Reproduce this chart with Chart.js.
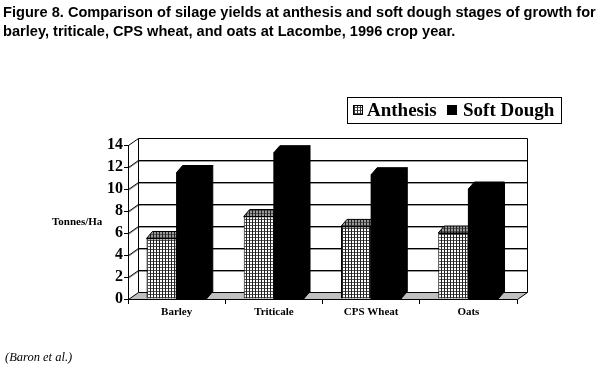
<!DOCTYPE html>
<html>
<head>
<meta charset="utf-8">
<script src="https://cdn.jsdelivr.net/npm/chart.js@4/dist/chart.umd.min.js"></script>
<style>
  body { margin: 0; background: #fff; }
  #wrap { position: relative; width: 598px; height: 370px; overflow: hidden; }
  #myChart { position: absolute; left: 0; top: 0; }
  .title { position: absolute; left: 3px; top: 3px; font: bold 14.6px "Liberation Sans", Arial, sans-serif; line-height: 19px; color: #000; white-space: nowrap; }
  .title b { font-weight: 900; }
  .ylab { position: absolute; left: 52px; top: 215px; font: bold 11px "Liberation Serif", serif; }
  .src { position: absolute; left: 5px; top: 350px; font: italic 12.5px "Liberation Serif", serif; }
  .legend { position: absolute; left: 347px; top: 97px; width: 213px; height: 25px; border: 1px solid #000; font: bold 19px "Liberation Serif", serif; }
  .legend span { position: absolute; top: 1px; }
  .sw { position: absolute; top: 7px; width: 10px; height: 10px; border: 1px solid #000; box-sizing: border-box; }
  .sw.a { left: 5px; background:
    repeating-linear-gradient(90deg, #333 0 1px, transparent 1px 3px),
    repeating-linear-gradient(0deg, #555 0 1px, #fff 1px 3px); }
  .sw.s { left: 99px; background: #000; }
</style>
</head>
<body>
<div id="wrap">
  <canvas id="myChart" width="598" height="370"></canvas>
  <div class="title"><b>Figure 8.</b> Comparison of silage yields at anthesis and soft dough stages of growth for<br>barley, triticale, CPS wheat, and oats at Lacombe, 1996 crop year.</div>
  <div class="legend">
    <div class="sw a"></div><span style="left:19px">Anthesis</span>
    <div class="sw s"></div><span style="left:115px">Soft Dough</span>
  </div>
  <div class="ylab">Tonnes/Ha</div>
  <div class="src">(Baron et al.)</div>
</div>
<script>
const crops = ['Barley', 'Triticale', 'CPS Wheat', 'Oats']
const anthesis = [5.5, 7.5, 6.6, 6.0]
const softDough = [11.5, 13.3, 11.3, 10.0]
const yMax = 14
const yStep = 2

// depth of the walls and of the bars (fake 3d)
const WDX = 10, WDY = -7
const BDX = 6, BDY = -7

function makePattern(bg) {
  const c = document.createElement('canvas')
  c.width = 3
  c.height = 3
  const g = c.getContext('2d')
  g.fillStyle = bg
  g.fillRect(0, 0, 3, 3)
  g.fillStyle = '#222'
  g.fillRect(0, 0, 1, 3)
  g.fillStyle = '#555'
  g.fillRect(1, 0, 2, 1)
  return g.createPattern(c, 'repeat')
}

const ctx = document.getElementById('myChart').getContext('2d')
const frontPat = makePattern('#fff')
const topPat = makePattern('#999')

function poly(c, pts, fill) {
  c.beginPath()
  c.moveTo(pts[0][0], pts[0][1])
  for (let i = 1; i < pts.length; i++) c.lineTo(pts[i][0], pts[i][1])
  c.closePath()
  if (fill) { c.fillStyle = fill; c.fill() }
  c.strokeStyle = '#000'
  c.lineWidth = 1
  c.stroke()
}

function drawBlock(c, bar, fill, front) {
  const l = bar.x - bar.width / 2, r = bar.x + bar.width / 2
  const t = bar.y, b = bar.base
  if (front) poly(c, [[l, t], [r, t], [r, b], [l, b]], fill)
  poly(c, [[r, t], [r + BDX, t + BDY], [r + BDX, b + BDY], [r, b]], fill)
  poly(c, [[l, t], [r, t], [r + BDX, t + BDY], [l + BDX, t + BDY]], fill)
}

const walls = {
  id: 'walls',
  beforeDatasetsDraw(chart) {
    const c = chart.ctx
    const a = chart.chartArea
    const y = chart.scales.y
    c.save()
    c.translate(0.5, 0.5)
    const L = Math.round(a.left), R = Math.round(a.right)
    const T = Math.round(a.top), B = Math.round(a.bottom)
    // gridlines on side and back wall
    for (let v = yStep; v < yMax; v += yStep) {
      const py = Math.round(y.getPixelForValue(v))
      c.strokeStyle = '#999'
      c.beginPath()
      c.moveTo(L, py + 1); c.lineTo(L + WDX, py + WDY + 1); c.lineTo(R + WDX, py + WDY + 1)
      c.stroke()
      c.strokeStyle = '#000'
      c.beginPath()
      c.moveTo(L, py); c.lineTo(L + WDX, py + WDY); c.lineTo(R + WDX, py + WDY)
      c.stroke()
    }
    // wall outline
    c.strokeStyle = '#000'
    c.beginPath()
    c.moveTo(L, B); c.lineTo(L, T); c.lineTo(L + WDX, T + WDY)
    c.lineTo(R + WDX, T + WDY); c.lineTo(R + WDX, B + WDY)
    c.moveTo(L + WDX, T + WDY); c.lineTo(L + WDX, B + WDY)
    c.stroke()
    // floor
    poly(c, [[L, B], [R, B], [R + WDX, B + WDY], [L + WDX, B + WDY]], '#c0c0c0')
    c.restore()
  },
  afterDatasetsDraw(chart) {
    const c = chart.ctx
    const anth = chart.getDatasetMeta(0).data
    const soft = chart.getDatasetMeta(1).data
    c.save()
    anth.forEach((bar, i) => {
      drawBlock(c, bar, topPat, false)
      // the soft dough column stands in front of the anthesis side face
      drawBlock(c, soft[i], '#000', true)
    })
    c.restore()
  }
}

const tickFont = { family: 'Liberation Serif', weight: 'bold', size: 16 }

new Chart(ctx, {
  type: 'bar',
  data: {
    labels: crops,
    datasets: [
      { label: 'Anthesis', data: anthesis, backgroundColor: frontPat, borderColor: '#000', borderWidth: 1 },
      { label: 'Soft Dough', data: softDough, backgroundColor: '#000', borderColor: '#000', borderWidth: 1 }
    ]
  },
  options: {
    responsive: false,
    animation: false,
    events: [],
    layout: { padding: { left: 98, right: 81, top: 145, bottom: 41 } },
    plugins: { legend: { display: false }, tooltip: { enabled: false } },
    datasets: { bar: { categoryPercentage: 0.62, barPercentage: 1.0 } },
    scales: {
      x: {
        afterFit: s => { s.height = 30 },
        grid: { offset: true, drawOnChartArea: false, drawTicks: true, tickLength: 5, color: '#000' },
        border: { color: '#000' },
        ticks: { color: '#000', font: { family: 'Liberation Serif', weight: 'bold', size: 11 }, padding: 2 }
      },
      y: {
        min: 0,
        max: yMax,
        afterFit: s => { s.width = 30 },
        grid: { drawOnChartArea: false, drawTicks: true, tickLength: 4, color: '#000' },
        border: { color: '#000' },
        ticks: { stepSize: yStep, autoSkip: false, color: '#000', font: tickFont, padding: 1 }
      }
    }
  },
  plugins: [walls]
})
</script>
</body>
</html>
